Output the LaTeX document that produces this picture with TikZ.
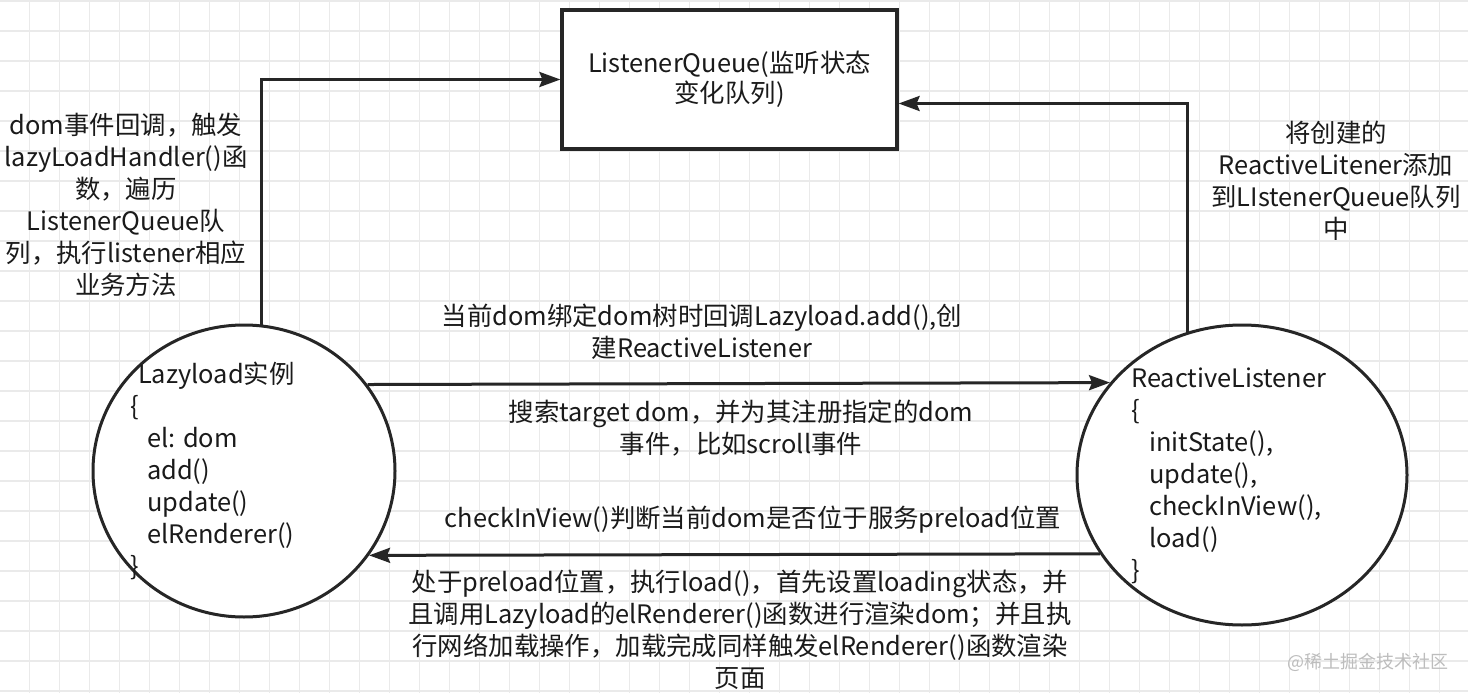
\documentclass[tikz,border=0pt]{standalone}
\usepackage{fontspec}
\setmainfont{Noto Sans CJK SC}
\usetikzlibrary{shapes.geometric,arrows.meta}
\definecolor{inkline}{HTML}{262626}
\definecolor{inktext}{HTML}{1A1A1A}
\definecolor{gridgray}{HTML}{EAEAEA}
\definecolor{markgray}{HTML}{BDBDBD}

\begin{document}
\begin{tikzpicture}[x=1pt,y=-1pt,
  gridline/.style={gridgray, line width=1.6pt},
  state/.style={ellipse, draw=inkline, fill=white, line width=3pt, inner sep=0pt},
  queuebox/.style={rectangle, draw=inkline, fill=white, line width=3.2pt, minimum width=335pt, minimum height=139pt,
    align=center, text=inktext, font=\fontsize{25.4pt}{30pt}\selectfont},
  lbl/.style={align=center, text=inktext, inner sep=0pt, font=\fontsize{25.4pt}{32pt}\selectfont},
  flow/.style={draw=inkline, line width=3pt, -{Stealth[length=21pt,width=15pt,inset=3pt]}}]
\useasboundingbox (0,0) rectangle (1468,693);
\fill[white] (0,0) rectangle (1468,693);
%
\foreach \i in {0,...,48} \draw[gridline] ({29.3+30*\i},0) -- ++(0,693);
\foreach \j in {0,...,23} \draw[gridline] (0,{1+30*\j}) -- ++(1468,0);
%
\node[queuebox] (queue) at (729.5,79.5) {ListenerQueue(监听状态\\变化队列)};
\node[state, minimum width=302pt, minimum height=292pt] (lazy) at (244,471) {};
\node[state, minimum width=330pt, minimum height=300pt] (rlis) at (1242,475) {};
%
\node[lbl, align=left, anchor=west] (lazytext) at (130,471) {\hspace*{8pt}Lazyload实例\\\{\\\hspace*{17pt}el: dom\\\hspace*{17pt}add()\\\hspace*{17pt}update()\\\hspace*{17pt}elRenderer()\\\}};
\node[lbl, align=left, anchor=west] (rlistext) at (1131,476) {ReactiveListener\\\{\\\hspace*{18pt}initState(),\\\hspace*{18pt}update(),\\\hspace*{18pt}checkInView(),\\\hspace*{18pt}load()\\\}};
%
\draw[flow] (lazy.83) |- (queue.west);
\draw[flow] (rlis.111.25) |- ([yshift=-24pt]queue.east);
\draw[flow] (lazy.35.2) -- (rlis.145.7);
\draw[flow] (rlis.209.8) -- (lazy.-34.2);
%
\node[lbl] (lblhandler) at (126,205) {dom事件回调，触发\\lazyLoadHandler()函\\数，遍历\\ListenerQueue队\\列，执行listener相应\\业务方法};
\node[lbl] (lbladdqueue) at (1336,181) {将创建的\\ReactiveLitener添加\\到LIstenerQueue队列\\中};
\node[lbl] (lbladd) at (702,332) {当前dom绑定dom树时回调Lazyload.add(),创\\建ReactiveListener};
\node[lbl] (lblsearch) at (741,428) {搜索target dom，并为其注册指定的dom\\事件，比如scroll事件};
\node[lbl] (lblcheck) at (753,520) {checkInView()判断当前dom是否位于服务preload位置};
\node[lbl] (lblload) at (740,630) {处于preload位置，执行load()，首先设置loading状态，并\\且调用Lazyload的elRenderer()函数进行渲染dom；并且执\\行网络加载操作，加载完成同样触发elRenderer()函数渲染\\页面};
%
\node[text=markgray, inner sep=0pt, font=\fontsize{18pt}{20pt}\selectfont] (mark) at (1368,662) {@稀土掘金技术社区};
%%%%%%%%%%%%%%%%%%%%%%%%%%%%%%%
\end{tikzpicture}
\end{document}
